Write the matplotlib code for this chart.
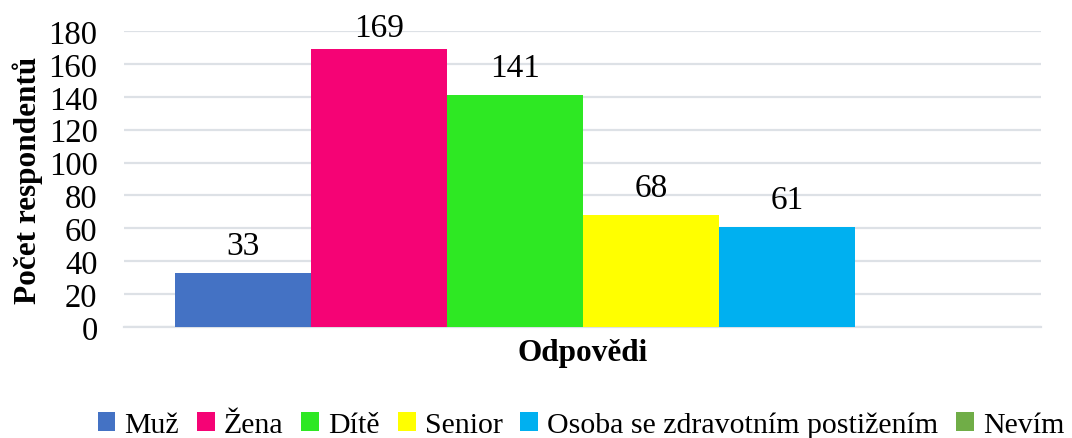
import matplotlib.pyplot as plt
from matplotlib.patches import Patch

# data
categories = ["Muž", "Žena", "Dítě", "Senior", "Osoba se zdravotním postižením", "Nevím"]
values = [33, 169, 141, 68, 61, 0]
colors = ["#4472C4", "#F50375", "#2EE823", "#FFFF00", "#00B0F0", "#70AD47"]

plt.rcParams["font.family"] = ["Liberation Serif", "DejaVu Serif"]

fig = plt.figure(figsize=(10.72, 4.39), dpi=100)
ax = fig.add_axes([124 / 1072, 1 - 328 / 439, 917 / 1072, 296 / 439])

x = list(range(len(values)))
ax.bar(x, values, width=1.0, color=colors, zorder=3)
for xi, v in zip(x, values):
    if v > 0:
        # label sits above the bar, but is kept inside the chart area like Excel does
        ly = min(v + 11.5, 177)
        ax.text(xi, ly, str(v), ha="center", va="baseline", fontsize=24)

ax.set_xlim(-0.5 - 51 / 136, 5.5 + 50 / 136)
ax.set_ylim(0, 180)
ax.set_yticks(range(0, 181, 20))
ax.tick_params(axis="y", labelsize=23.5, length=0, pad=19)
ax.set_xticks([])
ax.grid(axis="y", color="#dde1e6", linewidth=1.6, zorder=0)
for s in ["top", "right", "left"]:
    ax.spines[s].set_visible(False)
ax.spines["bottom"].set_color("#dde1e6")
ax.spines["bottom"].set_linewidth(1.6)

ax.set_ylabel("Počet respondentů", fontsize=22.5, fontweight="bold", labelpad=4)
ax.set_xlabel("Odpovědi", fontsize=22.5, fontweight="bold", labelpad=8)

handles = [Patch(facecolor=c, edgecolor="none") for c in colors]
fig.legend(handles, categories, loc="center", bbox_to_anchor=(0.542, 0.03),
           ncol=6, frameon=False, fontsize=21.5, handlelength=0.6, handleheight=0.6,
           handletextpad=0.3, columnspacing=0.6, borderpad=0.1)

fig.savefig("out.png", dpi=100)
